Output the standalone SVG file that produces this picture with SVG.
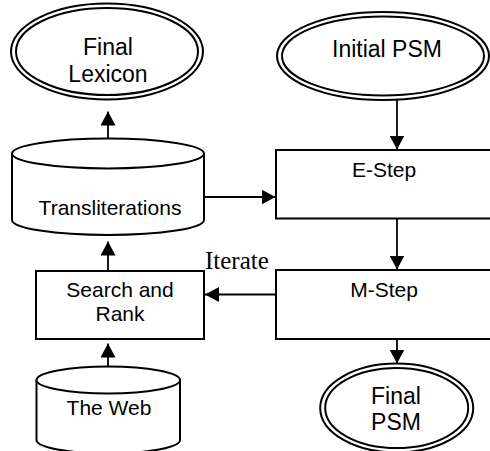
<svg xmlns="http://www.w3.org/2000/svg" width="490" height="451" viewBox="0 0 490 451">
<style>
.s{fill:#fff;stroke:#000;stroke-width:2}
.c{fill:none;stroke:#000;stroke-width:1.8}
.t{font-family:"Liberation Sans",Arial,sans-serif;font-size:21px;fill:#000;text-anchor:middle}
.b{font-size:23px}
.i{font-family:"Liberation Serif","Times New Roman",serif;font-size:25px;fill:#000}
</style>
<defs>
<marker id="ah" markerUnits="userSpaceOnUse" markerWidth="14" markerHeight="15" refX="14" refY="7.5" orient="auto">
<path d="M0,0 L14,7.5 L0,15 z" fill="#000"/>
</marker>
</defs>
<rect width="490" height="451" fill="#fff"/>
<g id="final-lexicon">
<ellipse class="s" cx="107" cy="51.5" rx="96" ry="48"/>
<ellipse class="s" cx="107" cy="51.5" rx="91" ry="43.5"/>
<text class="t b" x="108" y="55">Final</text>
<text class="t b" x="108" y="81.5">Lexicon</text>
</g>
<g id="initial-psm">
<ellipse class="s" cx="383" cy="56" rx="106" ry="44"/>
<ellipse class="s" cx="383" cy="56" rx="101" ry="39.5"/>
<text class="t b" x="387" y="56.5">Initial PSM</text>
</g>
<g id="transliterations">
<path class="s" d="M12,153.5 L12,220 A96,15 0 0 0 204,220 L204,153.5"/>
<ellipse class="s" cx="108" cy="153.5" rx="96" ry="15"/>
<text class="t" x="110" y="214.5">Transliterations</text>
</g>
<g id="e-step">
<rect class="s" x="276" y="150" width="220" height="68.5"/>
<text class="t" x="384" y="176.5">E-Step</text>
</g>
<g id="search-rank">
<rect class="s" x="36" y="271" width="168" height="68"/>
<text class="t" x="120" y="296.5">Search and</text>
<text class="t" x="120" y="320.5">Rank</text>
</g>
<g id="m-step">
<rect class="s" x="276" y="270" width="220" height="69"/>
<text class="t" x="384" y="296.5">M-Step</text>
</g>
<g id="the-web">
<path class="s" d="M36.5,380 L36.5,440 A71.75,13.5 0 0 0 180,440 L180,380"/>
<ellipse class="s" cx="108.25" cy="380" rx="71.75" ry="13.5"/>
<text class="t" x="109" y="415">The Web</text>
</g>
<g id="final-psm">
<ellipse class="s" cx="396.7" cy="408" rx="76.5" ry="44.5"/>
<ellipse class="s" cx="396.7" cy="408" rx="71.5" ry="40"/>
<text class="t b" x="396" y="403.5">Final</text>
<text class="t b" x="396" y="430">PSM</text>
</g>
<g id="connectors">
<line class="c" x1="108" y1="138.5" x2="108" y2="111.5" marker-end="url(#ah)"/>
<line class="c" x1="108" y1="271" x2="108" y2="241.5" marker-end="url(#ah)"/>
<line class="c" x1="108" y1="366.5" x2="108" y2="343.5" marker-end="url(#ah)"/>
<line class="c" x1="397" y1="100" x2="397" y2="149.5" marker-end="url(#ah)"/>
<line class="c" x1="204" y1="197" x2="275.5" y2="197" marker-end="url(#ah)"/>
<line class="c" x1="397" y1="218.5" x2="397" y2="269.5" marker-end="url(#ah)"/>
<line class="c" x1="276" y1="294.5" x2="205" y2="294.5" marker-end="url(#ah)"/>
<line class="c" x1="397" y1="339" x2="397" y2="363.5" marker-end="url(#ah)"/>
<text class="i" x="205" y="268.5">Iterate</text>
</g>
</svg>
